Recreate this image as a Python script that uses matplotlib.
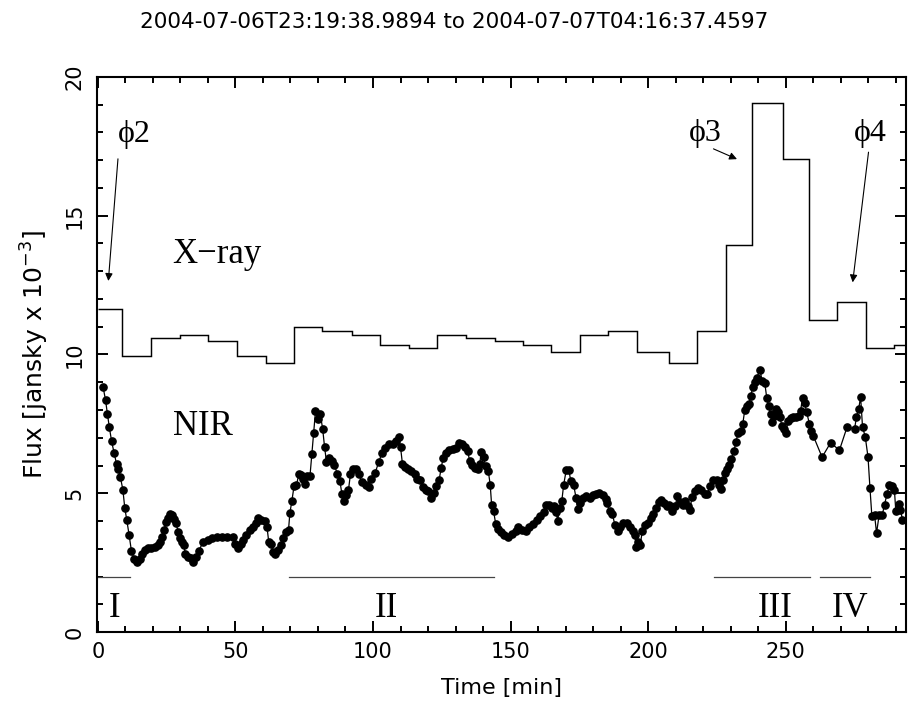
"""
NIR / X-ray flare light curve, 2004-07-06/07.
Run: python3 plot.py
"""
import matplotlib
matplotlib.use('Agg')
import matplotlib.pyplot as plt
from matplotlib.ticker import MultipleLocator

# ── X-ray binned light curve (bin edges in min, flux per bin) ─────
xray_edges = [0.0, 8.8, 19.2, 29.7, 40.1, 50.5, 61.0, 71.3, 81.6, 92.2,
              102.6, 113.0, 123.4, 133.8, 144.2, 154.4, 164.6, 175.1, 185.5,
              195.9, 207.4, 217.8, 228.2, 237.6, 249.0, 258.4, 268.8, 279.1,
              289.4, 293.7]
xray_flux = [11.65, 9.95, 10.60, 10.72, 10.47, 9.95, 9.69, 10.99, 10.86,
             10.72, 10.34, 10.22, 10.72, 10.60, 10.47, 10.34, 10.08, 10.72,
             10.86, 10.08, 9.69, 10.86, 13.93, 19.08, 17.05, 11.26, 11.90,
             10.22, 10.34]

# ── NIR light curve ───────────────────────────────────────────────
nir_time = [
    1.9, 2.8, 3.5, 4.2, 5.0, 5.9, 6.8, 7.4, 8.2, 9.1, 9.8, 10.5, 11.4, 12.2,
    13.2, 14.4, 15.2, 16.1, 17.1, 18.3, 19.5, 20.7, 21.9, 22.6, 23.3, 24.1,
    24.8, 25.5, 26.2, 27.0, 27.7, 28.4, 29.2, 29.9, 30.6, 31.3, 31.8, 32.8,
    33.8, 34.7, 35.6, 36.7, 38.2, 40.0, 41.5, 43.4, 45.1, 47.1, 49.1, 50.0,
    50.9, 51.9, 52.8, 54.0, 55.2, 56.4, 57.4, 58.2, 59.4, 60.6, 61.5, 62.1,
    62.8, 63.8, 64.5, 65.5, 66.4, 67.4, 68.4, 69.3, 69.8, 70.5, 71.3, 72.2,
    73.0, 73.9, 74.7, 75.4, 76.1, 77.1, 77.8, 78.5, 79.1, 80.0, 80.8, 81.7,
    82.4, 83.1, 84.1, 85.0, 86.0, 87.0, 88.0, 88.7, 89.4, 90.1, 91.1, 91.8,
    92.8, 93.9, 95.0, 95.9, 97.3, 98.4, 99.3, 100.8, 102.1, 103.3, 104.5,
    105.7, 107.2, 108.4, 109.3, 110.0, 110.7, 111.7, 112.6, 113.9, 115.1,
    116.0, 117.2, 118.2, 119.2, 120.1, 121.1, 122.1, 123.0, 124.0, 124.8,
    125.5, 126.4, 127.6, 128.9, 130.1, 131.3, 132.5, 133.5, 134.4, 135.1,
    136.1, 137.1, 138.0, 138.8, 139.3, 140.2, 140.9, 141.9, 142.6, 143.1,
    143.8, 144.6, 145.6, 146.5, 147.7, 149.2, 150.4, 151.8, 152.8, 154.0,
    155.5, 156.8, 158.1, 159.5, 160.8, 162.0, 163.0, 163.9, 164.9, 165.9,
    166.6, 167.1, 167.8, 168.6, 169.3, 170.2, 171.2, 171.9, 172.9, 173.8,
    174.4, 175.3, 176.3, 177.5, 178.7, 179.9, 181.1, 182.3, 183.5, 184.5,
    185.2, 186.0, 187.0, 187.9, 188.9, 189.8, 191.0, 192.3, 193.5, 194.4,
    195.2, 195.6, 196.4, 197.1, 197.9, 199.0, 200.0, 201.0, 201.9, 202.9,
    203.9, 204.8, 205.8, 206.8, 207.7, 208.8, 209.8, 210.6, 211.6, 212.6,
    213.5, 214.5, 215.2, 215.9, 216.9, 218.1, 219.3, 220.6, 221.5, 222.5,
    223.7, 224.9, 225.9, 226.6, 227.3, 228.1, 228.8, 229.5, 230.2, 231.2,
    231.9, 232.7, 233.6, 234.4, 235.1, 235.8, 236.6, 237.3, 238.0, 238.7,
    239.4, 240.7, 241.4, 242.4, 243.1, 243.8, 244.5, 245.0, 245.7, 246.4,
    247.2, 247.9, 248.6, 249.3, 250.1, 250.8, 251.8, 252.7, 253.7, 254.7,
    255.4, 256.1, 256.9, 257.6, 258.6, 259.3, 260.0, 263.2, 266.3, 269.5,
    272.3, 275.0, 275.7, 276.5, 277.2, 277.9, 278.9, 279.9, 280.6, 281.3,
    282.3, 283.0, 283.9, 285.1, 285.9, 286.8, 287.6, 288.5, 289.5, 290.0,
    291.0, 291.7, 292.4]
nir_flux = [
    8.84, 8.36, 7.85, 7.37, 6.88, 6.46, 6.06, 5.89, 5.58, 5.13, 4.47, 4.05,
    3.48, 2.93, 2.63, 2.51, 2.63, 2.80, 2.96, 3.02, 3.02, 3.06, 3.14, 3.26,
    3.44, 3.68, 3.95, 4.11, 4.25, 4.20, 4.08, 3.92, 3.62, 3.38, 3.24, 3.12,
    2.80, 2.72, 2.66, 2.54, 2.72, 2.92, 3.24, 3.32, 3.38, 3.44, 3.44, 3.44,
    3.44, 3.16, 3.04, 3.16, 3.32, 3.50, 3.66, 3.78, 3.92, 4.11, 4.05, 4.01,
    3.77, 3.26, 3.16, 2.90, 2.80, 2.96, 3.12, 3.38, 3.62, 3.68, 4.29, 4.71,
    5.25, 5.28, 5.68, 5.65, 5.53, 5.34, 5.62, 5.62, 6.42, 7.18, 7.95, 7.67,
    7.87, 7.33, 6.67, 6.13, 6.26, 6.18, 6.01, 5.71, 5.43, 4.97, 4.71, 4.95,
    5.13, 5.68, 5.89, 5.86, 5.70, 5.40, 5.31, 5.22, 5.50, 5.74, 6.13, 6.46,
    6.62, 6.76, 6.79, 6.88, 7.03, 6.67, 6.06, 5.94, 5.86, 5.80, 5.68, 5.50,
    5.49, 5.22, 5.11, 5.07, 4.83, 5.01, 5.25, 5.46, 5.92, 6.28, 6.46, 6.55,
    6.58, 6.64, 6.82, 6.76, 6.67, 6.52, 6.18, 6.01, 5.92, 5.86, 6.04, 6.50,
    6.30, 5.98, 5.80, 5.31, 4.59, 4.37, 3.89, 3.72, 3.60, 3.50, 3.44, 3.53,
    3.65, 3.77, 3.68, 3.65, 3.77, 3.89, 4.05, 4.17, 4.32, 4.57, 4.59, 4.47,
    4.53, 4.32, 4.01, 4.47, 4.71, 5.31, 5.82, 5.82, 5.43, 5.31, 4.83, 4.45,
    4.65, 4.83, 4.89, 4.83, 4.93, 4.97, 5.01, 4.95, 4.81, 4.65, 4.35, 4.25,
    3.86, 3.65, 3.77, 3.92, 3.92, 3.80, 3.65, 3.48, 3.08, 3.24, 3.14, 3.65,
    3.84, 3.92, 4.11, 4.25, 4.47, 4.68, 4.77, 4.65, 4.53, 4.59, 4.35, 4.53,
    4.89, 4.68, 4.59, 4.71, 4.53, 4.41, 4.86, 5.07, 5.19, 5.10, 4.97, 4.97,
    5.25, 5.46, 5.49, 5.31, 5.17, 5.49, 5.74, 5.86, 6.01, 6.22, 6.52, 6.86,
    7.18, 7.25, 7.51, 8.00, 8.15, 8.21, 8.51, 8.82, 9.00, 9.16, 9.44, 9.03,
    8.96, 8.43, 8.15, 7.85, 7.58, 7.79, 8.03, 7.91, 7.73, 7.43, 7.31, 7.18,
    7.61, 7.71, 7.73, 7.75, 7.79, 7.97, 8.45, 8.24, 7.91, 7.51, 7.25, 7.07,
    6.30, 6.82, 6.55, 7.39, 7.31, 7.75, 8.03, 8.48, 7.39, 7.03, 6.30, 5.19,
    4.17, 4.20, 3.56, 4.20, 4.23, 4.59, 4.97, 5.29, 5.25, 5.10, 4.35, 4.61,
    4.41, 4.05]

# ── flare intervals ───────────────────────────────────────────────
seg_names = ['I', 'II', 'III', 'IV']
seg_start = [0.0, 69.3, 224.0, 262.4]
seg_end   = [11.6, 144.1, 258.8, 280.6]
seg_label_x = [6.2, 104.9, 246.3, 273.3]
seg_level = 2.0

title = '2004-07-06T23:19:38.9894 to 2004-07-07T04:16:37.4597'
serif = ['Liberation Serif', 'DejaVu Serif']

fig = plt.figure(figsize=(9.09, 7.16), dpi=100)
ax = fig.add_axes([0.1067, 0.1173, 0.8900, 0.7752])

ax.stairs(xray_flux, xray_edges, baseline=None, color='black', lw=1.05)
ax.plot(nir_time, nir_flux, '-o', color='black', lw=0.9, ms=5.2)

for name, s, e, lx in zip(seg_names, seg_start, seg_end, seg_label_x):
    ax.plot([s, e], [seg_level, seg_level], color='#444444', lw=0.9)
    ax.text(lx, 0.55, name, ha='center', va='baseline', fontsize=25, family=serif)

ax.text(43.4, 13.29, 'X\u2212ray', ha='center', va='baseline', fontsize=25, family=serif)
ax.text(38.3, 7.09, 'NIR', ha='center', va='baseline', fontsize=25, family=serif)

# phase markers with arrows
arrow = dict(arrowstyle='-|>', color='black', lw=0.8, mutation_scale=11)
ax.text(13.1, 17.66, '\u03d52', ha='center', va='baseline', fontsize=23, family=serif)
ax.annotate('', xy=(3.75, 12.55), xytext=(7.4, 17.15), arrowprops=arrow)
ax.text(220.6, 17.69, '\u03d53', ha='center', va='baseline', fontsize=23, family=serif)
ax.annotate('', xy=(233.2, 17.0), xytext=(222.8, 17.45), arrowprops=arrow)
ax.text(280.9, 17.69, '\u03d54', ha='center', va='baseline', fontsize=23, family=serif)
ax.annotate('', xy=(274.2, 12.5), xytext=(280.2, 17.39), arrowprops=arrow)

ax.set_xlim(-0.3, 293.7)
ax.set_ylim(0, 20)
ax.xaxis.set_major_locator(MultipleLocator(50))
ax.xaxis.set_minor_locator(MultipleLocator(10))
ax.yaxis.set_major_locator(MultipleLocator(5))
ax.yaxis.set_minor_locator(MultipleLocator(1))
ax.tick_params(which='both', direction='in', top=True, right=True, width=1.4)
ax.tick_params(which='major', length=8)
ax.tick_params(which='minor', length=4.5)
ax.tick_params(axis='x', labelsize=15, pad=7)
ax.tick_params(axis='y', labelsize=15, pad=9, labelrotation=90)
for lbl in ax.get_yticklabels():
    lbl.set_va('center')
for sp in ax.spines.values():
    sp.set_linewidth(1.5)

ax.set_xlabel('Time [min]', fontsize=16, labelpad=12)
ax.set_ylabel('Flux [jansky x 10$^{-3}$]', fontsize=18, labelpad=10)
fig.text(0.5, 0.969, title, ha='center', va='center', fontsize=15.5)

fig.savefig('out.png', dpi=100)
